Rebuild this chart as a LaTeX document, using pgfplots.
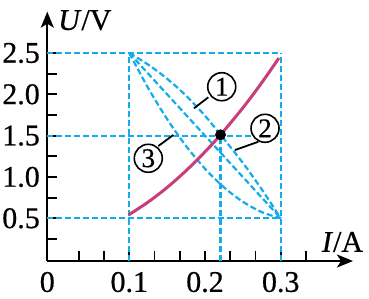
\documentclass[border=0pt]{standalone}
\usepackage{fontspec}
\setmainfont{Liberation Serif}[FakeBold=0.6]
\usepackage{pgfplots}
\pgfplotsset{compat=1.18}
\usetikzlibrary{arrows.meta}
\definecolor{dblue}{RGB}{20,172,232}
\definecolor{mag}{RGB}{200,62,122}
\begin{document}
\begin{tikzpicture}
\begin{axis}[
 scale only axis, width=305.7pt, height=249.3pt,
 xmin=-0.0083, xmax=0.3955, ymin=-0.017, ymax=3.0,
 axis lines=left,
 axis line style={line width=2pt, -{Stealth[length=16pt,width=13pt,inset=4pt]}},
 clip=false,
 tick align=inside,
 major tick length=10pt,
 tick style={line width=1.8pt, black},
 xtick={-0.0083,0.03333,0.06667,0.1,0.13333,0.16667,0.2,0.23333,0.26667,0.3,0.33333},
 xticklabels={0,,,0.1,,,0.2,,,0.3,},
 ytick={0.25,0.5,0.75,1.0,1.25,1.5,1.75,2.0,2.25,2.5},
 yticklabels={,0.5,,1.0,,1.5,,2.0,,2.5},
 ticklabel style={font=\fontsize{30}{32}\selectfont, inner sep=0pt},
 xticklabel style={yshift=-10.7pt},
 yticklabel style={xshift=-7.3pt},
]
\path (rel axis cs:-0.1547,-0.1484) rectangle (rel axis cs:1.0523,1.0469);
% guide lines
\addplot[dblue, line width=2.2pt, dash pattern=on 6pt off 3pt] coordinates {(-0.0083,2.5) (0.3,2.5)};
\addplot[dblue, line width=2.2pt, dash pattern=on 6pt off 3pt] coordinates {(-0.0083,1.5) (0.3,1.5)};
\addplot[dblue, line width=2.2pt, dash pattern=on 6pt off 3pt] coordinates {(-0.0083,0.5) (0.3,0.5)};
\addplot[dblue, line width=2.2pt, dash pattern=on 6pt off 3pt] coordinates {(0.1,-0.017) (0.1,2.5)};
\addplot[dblue, line width=2.2pt, dash pattern=on 6pt off 3pt] coordinates {(0.3,-0.017) (0.3,2.5)};
\addplot[dblue, line width=2.2pt, dash pattern=on 6pt off 3pt] coordinates {(0.2205,-0.017) (0.2205,1.5)};
% curve 1 (concave)
\addplot[dblue, line width=2.2pt, dash pattern=on 6pt off 3pt, smooth] coordinates {
 (0.1,2.5) (0.125,2.359) (0.15,2.188) (0.175,1.984) (0.2,1.74) (0.225,1.46) (0.25,1.17) (0.275,0.85) (0.3,0.5)};
% curve 2 (straight)
\addplot[dblue, line width=2.2pt, dash pattern=on 6pt off 3pt] coordinates {(0.1,2.5) (0.3,0.5)};
% curve 3 (convex)
\addplot[dblue, line width=2.2pt, dash pattern=on 6pt off 3pt, smooth] coordinates {
 (0.1,2.5) (0.125,2.075) (0.15,1.70) (0.175,1.375) (0.2,1.10) (0.225,0.875) (0.25,0.70) (0.275,0.575) (0.3,0.5)};
% magenta curve
\addplot[mag, line width=3pt, smooth] coordinates {
 (0.099,0.54) (0.125,0.697) (0.15,0.873) (0.175,1.076) (0.2,1.304) (0.2205,1.51) (0.25,1.836) (0.275,2.141) (0.2977,2.44)};
% dot
\addplot[only marks, mark=*, mark size=5.2pt, black] coordinates {(0.2205,1.51)};
% leaders
\addplot[black, line width=1.8pt] coordinates {(0.1855,1.831) (0.2044,1.964)};
\addplot[black, line width=1.8pt] coordinates {(0.2396,1.326) (0.2704,1.426)};
\addplot[black, line width=1.8pt] coordinates {(0.1581,1.508) (0.1383,1.374)};
\node[circle, draw, line width=1.6pt, minimum size=28pt, inner sep=0pt, font=\fontsize{27}{27}\selectfont, fill=white] at (axis cs:0.2221,2.092) {1};
\node[circle, draw, line width=1.6pt, minimum size=28pt, inner sep=0pt, font=\fontsize{27}{27}\selectfont, fill=white] at (axis cs:0.2793,1.589) {2};
\node[circle, draw, line width=1.6pt, minimum size=28pt, inner sep=0pt, font=\fontsize{27}{27}\selectfont, fill=white] at (axis cs:0.1251,1.226) {3};
% axis labels
\node[anchor=base west, inner sep=0pt, font=\fontsize{30}{32}\selectfont] at (rel axis cs:0.035,0.927) {\textit{U}/V};
\node[anchor=base west, inner sep=0pt, font=\fontsize{30}{32}\selectfont] at (rel axis cs:0.8976,0.037) {\textit{I}/A};
\end{axis}
\end{tikzpicture}
\end{document}
